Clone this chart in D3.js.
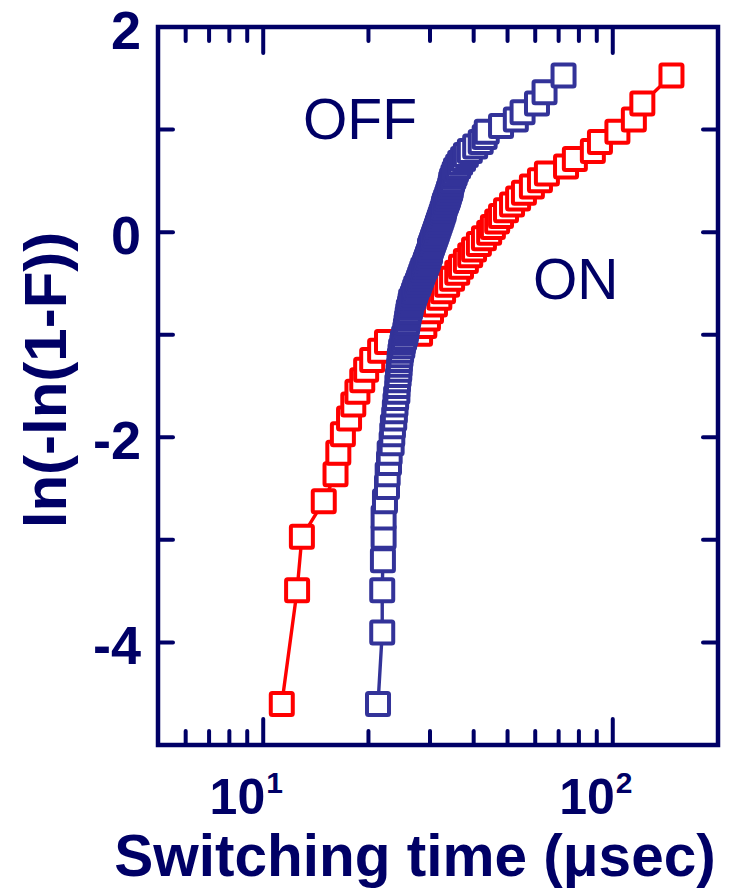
<!DOCTYPE html>
<html>
<head>
<meta charset="utf-8">
<script src="https://cdn.jsdelivr.net/npm/d3@7/dist/d3.min.js"></script>
<style>
  html, body { margin: 0; padding: 0; background: #fff; }
  svg { display: block; }
  text { font-family: "Liberation Sans", Arial, Helvetica, sans-serif; }
</style>
</head>
<body>
<svg id="chart" width="732" height="889"></svg>
<script>
// Weibull plot of switching times, ln(-ln(1-F)) vs time (µs)

// OFF switching: 99 ranked times (µs) and their Weibull ordinates
const offTimes = [
  21.3, 21.9, 21.9, 22.0, 22.1, 22.1, 22.3, 22.6, 22.7, 22.9,
  23.0, 23.3, 23.4, 23.5, 23.7, 23.8, 23.9, 24.0, 24.2, 24.2,
  24.3, 24.4, 24.5, 24.55, 24.6, 24.7, 24.8, 25.0, 25.1, 25.3,
  25.5, 25.6, 25.7, 25.8, 25.9, 26.0, 26.1, 26.3, 26.4, 26.5,
  26.8, 27.0, 27.2, 27.4, 27.7, 27.9, 28.1, 28.3, 28.5, 28.7,
  29.0, 29.2, 29.4, 29.6, 29.8, 30.0, 30.0, 30.2, 30.4, 30.6,
  30.8, 31.0, 31.2, 31.4, 31.6, 31.8, 32.0, 32.2, 32.4, 32.6,
  32.8, 32.9, 33.1, 33.35, 33.6, 33.8, 34.0, 34.25, 34.4, 34.5,
  34.7, 35.0, 35.3, 35.6, 36.1, 36.6, 37.3, 38.0, 39.0, 40.4,
  41.9, 43.0, 43.6, 47.9, 52.8, 55.2, 60.7, 63.8, 72.3
];
const offWeibull = [
  -4.600, -3.902, -3.491, -3.199, -2.970, -2.783, -2.623, -2.484, -2.361, -2.250,
  -2.150, -2.057, -1.971, -1.892, -1.817, -1.747, -1.680, -1.617, -1.557, -1.500,
  -1.445, -1.392, -1.342, -1.293, -1.246, -1.200, -1.156, -1.113, -1.071, -1.031,
  -0.991, -0.953, -0.915, -0.878, -0.842, -0.807, -0.772, -0.738, -0.705, -0.672,
  -0.639, -0.607, -0.576, -0.545, -0.514, -0.484, -0.454, -0.425, -0.396, -0.367,
  -0.338, -0.309, -0.281, -0.253, -0.225, -0.197, -0.170, -0.142, -0.115, -0.087,
  -0.060, -0.033, -0.006, 0.021, 0.049, 0.076, 0.103, 0.131, 0.158, 0.186,
  0.213, 0.241, 0.270, 0.298, 0.327, 0.356, 0.385, 0.415, 0.445, 0.476,
  0.507, 0.539, 0.572, 0.606, 0.640, 0.676, 0.713, 0.752, 0.792, 0.834,
  0.879, 0.927, 0.978, 1.034, 1.097, 1.169, 1.255, 1.364, 1.527
];

// ON switching: 50 ranked times (µs) and their Weibull ordinates
const onTimes = [
  11.3, 12.5, 12.9, 14.9, 16.1, 16.4, 16.9, 17.6, 18.1, 18.6,
  19.2, 19.7, 20.5, 21.6, 22.6, 28.1, 28.9, 29.6, 30.2, 31.0,
  31.9, 32.7, 33.6, 34.7, 35.9, 36.8, 38.0, 39.1, 40.1, 41.4,
  42.8, 44.3, 45.4, 46.7, 47.9, 49.5, 51.5, 53.6, 55.7, 58.7,
  61.9, 64.8, 73.5, 77.9, 87.7, 91.9, 103.1, 114.9, 121.5, 147.2
];
const onWeibull = [
  -4.600, -3.491, -2.970, -2.623, -2.361, -2.150, -1.971, -1.817, -1.680, -1.557,
  -1.445, -1.342, -1.246, -1.156, -1.071, -0.991, -0.915, -0.842, -0.772, -0.705,
  -0.639, -0.576, -0.514, -0.454, -0.396, -0.338, -0.281, -0.225, -0.170, -0.115,
  -0.060, -0.006, 0.049, 0.103, 0.158, 0.213, 0.270, 0.327, 0.385, 0.445,
  0.507, 0.572, 0.640, 0.713, 0.792, 0.879, 0.978, 1.097, 1.255, 1.527
];

// axis ticks and labels
const xMajorTicks = [10, 100];
const xMinorTicks = [6, 7, 8, 9, 20, 30, 40, 50, 60, 70, 80, 90];
const xTickLabels = [{ base: "10", exp: "1" }, { base: "10", exp: "2" }];
const yTicks = [-4, -3, -2, -1, 0, 1];
const yTickLabels = ["-4", "-2", "0", "2"];

const seriesLabels = ["OFF", "ON"];
const xTitle = "Switching time (\u03bcsec)";
const yTitle = "ln(-ln(1-F))";

const navy = "#000066";
const offColor = "#333399";
const onColor = "#ff0000";

const svg = d3.select("#chart");
const plot = { left: 158, right: 718, top: 27, bottom: 745 };

const x = d3.scaleLog().domain([5, 200]).range([plot.left, plot.right]);
const y = d3.scaleLinear().domain([-5, 2]).range([plot.bottom, plot.top]);

// --- series: connecting line underneath, then open squares in rank order
function drawSeries(times, weib, color) {
  const pts = times.map((t, i) => ({ t, w: weib[i] }));
  const g = svg.append("g");
  g.append("path")
    .datum(pts)
    .attr("fill", "none")
    .attr("stroke", color)
    .attr("stroke-width", 3.4)
    .attr("stroke-linejoin", "round")
    .attr("d", d3.line().x(d => x(d.t)).y(d => y(d.w)));
  const s = 22;
  g.selectAll("rect")
    .data(pts)
    .join("rect")
    .attr("x", d => x(d.t) - s / 2)
    .attr("y", d => y(d.w) - s / 2)
    .attr("width", s)
    .attr("height", s)
    .attr("rx", 1.5)
    .attr("fill", "#fff")
    .attr("stroke", color)
    .attr("stroke-width", 4);
}
drawSeries(onTimes, onWeibull, onColor);
drawSeries(offTimes, offWeibull, offColor);

// --- frame and inward ticks
const axisG = svg.append("g").attr("stroke", navy).attr("stroke-linecap", "round");
axisG.append("rect")
  .attr("x", plot.left).attr("y", plot.top)
  .attr("width", plot.right - plot.left).attr("height", plot.bottom - plot.top)
  .attr("fill", "none").attr("stroke-width", 4.5);

function xTick(v, len) {
  axisG.append("line").attr("x1", x(v)).attr("x2", x(v))
    .attr("y1", plot.bottom).attr("y2", plot.bottom - len).attr("stroke-width", 4);
  axisG.append("line").attr("x1", x(v)).attr("x2", x(v))
    .attr("y1", plot.top).attr("y2", plot.top + len).attr("stroke-width", 4);
}
xMajorTicks.forEach(v => xTick(v, 26));
xMinorTicks.forEach(v => xTick(v, 14));
yTicks.forEach(v => {
  axisG.append("line").attr("x1", plot.left).attr("x2", plot.left + 15)
    .attr("y1", y(v)).attr("y2", y(v)).attr("stroke-width", 4);
  axisG.append("line").attr("x1", plot.right).attr("x2", plot.right - 15)
    .attr("y1", y(v)).attr("y2", y(v)).attr("stroke-width", 4);
});

// --- tick labels
svg.append("g").selectAll("text")
  .data(yTickLabels)
  .join("text")
  .attr("x", 141)
  .attr("y", d => y(+d))
  .attr("dy", "0.4em")
  .attr("text-anchor", "end")
  .attr("font-size", 54)
  .attr("font-weight", "bold")
  .attr("fill", navy)
  .text(d => d);

// decade labels: base ends at the tick, exponent raised just after it
xTickLabels.forEach((lab, i) => {
  const px = x(xMajorTicks[i]);
  svg.append("text")
    .attr("x", px + 2).attr("y", 814)
    .attr("text-anchor", "end")
    .attr("font-size", 50).attr("font-weight", "bold").attr("fill", navy)
    .text(lab.base);
  svg.append("text")
    .attr("x", px + 3).attr("y", 793)
    .attr("text-anchor", "start")
    .attr("font-size", 30).attr("font-weight", "bold").attr("fill", navy)
    .text(lab.exp);
});

// --- axis titles
svg.append("text")
  .attr("x", 415).attr("y", 876)
  .attr("text-anchor", "middle")
  .attr("font-size", 58.5)
  .attr("font-weight", "bold")
  .attr("fill", navy)
  .text(xTitle);

svg.append("text")
  .attr("transform", "translate(66,380) rotate(-90)")
  .attr("text-anchor", "middle")
  .attr("font-size", 60)
  .attr("font-weight", "bold")
  .attr("fill", navy)
  .text(yTitle);

// --- series labels
svg.append("text").attr("x", 303).attr("y", 139)
  .attr("font-size", 57).attr("fill", navy).text(seriesLabels[0]);
svg.append("text").attr("x", 533).attr("y", 299)
  .attr("font-size", 57).attr("fill", navy).text(seriesLabels[1]);
</script>
</body>
</html>
